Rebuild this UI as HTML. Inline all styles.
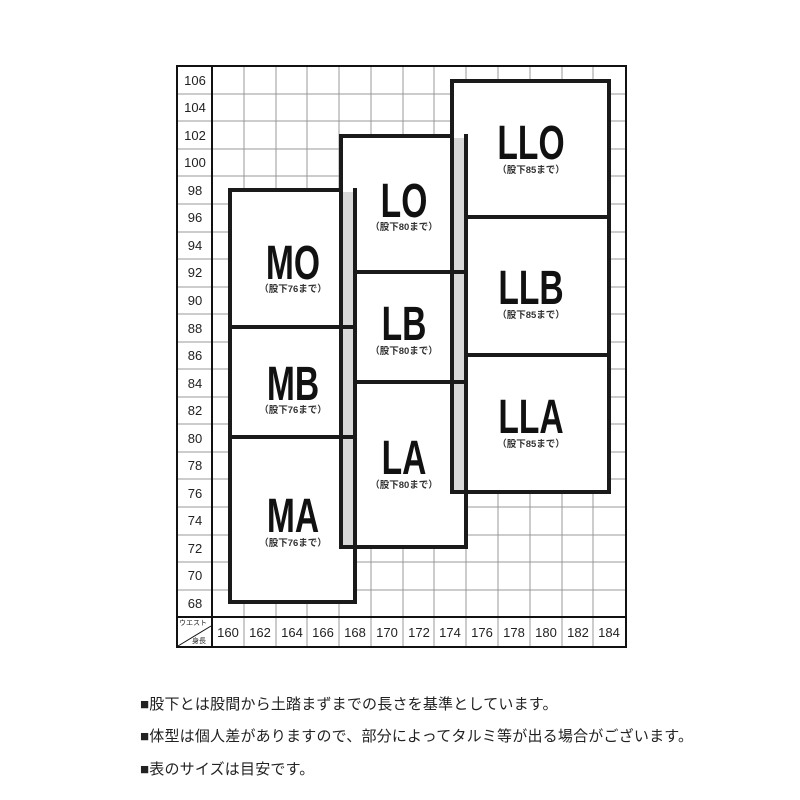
<!DOCTYPE html>
<html><head><meta charset="utf-8"><style>
html,body{margin:0;padding:0;background:#fff;}
svg{display:block}
.n{font-family:"Liberation Sans",sans-serif;font-size:13px;fill:#222;text-anchor:middle}
.big{font-family:"Liberation Sans","DejaVu Sans",sans-serif;font-weight:bold;font-size:48px;fill:#111;text-anchor:middle}
.sub{font-family:"Liberation Sans","Noto Sans CJK JP",sans-serif;font-weight:bold;font-size:9.5px;fill:#333;text-anchor:middle}
.t{font-family:"Liberation Sans","Noto Sans CJK JP",sans-serif;font-size:15px;letter-spacing:0.2px;fill:#222}
</style></head><body>
<svg width="800" height="800" viewBox="0 0 800 800">
<g stroke="#999" stroke-width="1">
<line x1="244" y1="66" x2="244" y2="647"/><line x1="276" y1="66" x2="276" y2="647"/><line x1="307" y1="66" x2="307" y2="647"/><line x1="339" y1="66" x2="339" y2="647"/><line x1="371" y1="66" x2="371" y2="647"/><line x1="403" y1="66" x2="403" y2="647"/><line x1="434" y1="66" x2="434" y2="647"/><line x1="466" y1="66" x2="466" y2="647"/><line x1="498" y1="66" x2="498" y2="647"/><line x1="530" y1="66" x2="530" y2="647"/><line x1="562" y1="66" x2="562" y2="647"/><line x1="593" y1="66" x2="593" y2="647"/>
<line x1="177" y1="94" x2="626" y2="94"/><line x1="177" y1="121" x2="626" y2="121"/><line x1="177" y1="149" x2="626" y2="149"/><line x1="177" y1="176" x2="626" y2="176"/><line x1="177" y1="204" x2="626" y2="204"/><line x1="177" y1="232" x2="626" y2="232"/><line x1="177" y1="259" x2="626" y2="259"/><line x1="177" y1="287" x2="626" y2="287"/><line x1="177" y1="314" x2="626" y2="314"/><line x1="177" y1="342" x2="626" y2="342"/><line x1="177" y1="369" x2="626" y2="369"/><line x1="177" y1="397" x2="626" y2="397"/><line x1="177" y1="424" x2="626" y2="424"/><line x1="177" y1="452" x2="626" y2="452"/><line x1="177" y1="479" x2="626" y2="479"/><line x1="177" y1="507" x2="626" y2="507"/><line x1="177" y1="535" x2="626" y2="535"/><line x1="177" y1="562" x2="626" y2="562"/><line x1="177" y1="590" x2="626" y2="590"/>
</g>
<g fill="none" stroke="#111" stroke-width="2">
<rect x="177" y="66" width="449" height="581"/>
<line x1="212" y1="66" x2="212" y2="647"/>
<line x1="177" y1="617" x2="626" y2="617"/>
</g>
<line x1="178" y1="646" x2="211" y2="626" stroke="#111" stroke-width="1"/>
<text x="179" y="625" style="font-family:'Noto Sans CJK JP',sans-serif;font-size:7px;fill:#222">ウエスト</text>
<text x="192" y="643" style="font-family:'Noto Sans CJK JP',sans-serif;font-size:7px;fill:#222">身長</text>
<g class="n">
<text x="195" y="85">106</text><text x="195" y="112">104</text><text x="195" y="140">102</text><text x="195" y="167">100</text><text x="195" y="195">98</text><text x="195" y="222">96</text><text x="195" y="250">94</text><text x="195" y="277">92</text><text x="195" y="305">90</text><text x="195" y="333">88</text><text x="195" y="360">86</text><text x="195" y="388">84</text><text x="195" y="415">82</text><text x="195" y="443">80</text><text x="195" y="470">78</text><text x="195" y="498">76</text><text x="195" y="525">74</text><text x="195" y="553">72</text><text x="195" y="580">70</text><text x="195" y="608">68</text>
<text x="228" y="637">160</text><text x="260" y="637">162</text><text x="292" y="637">164</text><text x="323" y="637">166</text><text x="355" y="637">168</text><text x="387" y="637">170</text><text x="419" y="637">172</text><text x="450" y="637">174</text><text x="482" y="637">176</text><text x="514" y="637">178</text><text x="546" y="637">180</text><text x="578" y="637">182</text><text x="609" y="637">184</text>
</g>
<g fill="#fff" stroke="#1a1a1a" stroke-width="4">
<rect x="230" y="190" width="125" height="412"/>
<line x1="230" y1="327" x2="355" y2="327"/>
<line x1="230" y1="437" x2="355" y2="437"/>
<rect x="341" y="136" width="125" height="411"/>
<line x1="341" y1="272" x2="466" y2="272"/>
<line x1="341" y1="382" x2="466" y2="382"/>
<rect x="452" y="81" width="157" height="411"/>
<line x1="452" y1="217" x2="609" y2="217"/>
<line x1="452" y1="355" x2="609" y2="355"/>
</g>
<rect x="343" y="192" width="10" height="353" fill="#d8d8d8"/>
<rect x="454" y="138" width="10" height="352" fill="#d8d8d8"/>
<g stroke="#1a1a1a" stroke-width="4">
<line x1="355" y1="188" x2="355" y2="547"/>
<line x1="466" y1="134" x2="466" y2="492"/>
<line x1="341" y1="327" x2="355" y2="327"/><line x1="341" y1="437" x2="355" y2="437"/>
<line x1="452" y1="272" x2="466" y2="272"/><line x1="452" y1="382" x2="466" y2="382"/>
</g>
<g class="big">
<text x="293" y="279" transform="translate(293 0) scale(0.7 1) translate(-293 0)">MO</text>
<text x="293" y="400" transform="translate(293 0) scale(0.7 1) translate(-293 0)">MB</text>
<text x="293" y="532" transform="translate(293 0) scale(0.7 1) translate(-293 0)">MA</text>
<text x="404" y="217" transform="translate(404 0) scale(0.7 1) translate(-404 0)">LO</text>
<text x="404" y="340" transform="translate(404 0) scale(0.7 1) translate(-404 0)">LB</text>
<text x="404" y="474" transform="translate(404 0) scale(0.7 1) translate(-404 0)">LA</text>
<text x="531" y="159" transform="translate(531 0) scale(0.7 1) translate(-531 0)">LLO</text>
<text x="531" y="304" transform="translate(531 0) scale(0.7 1) translate(-531 0)">LLB</text>
<text x="531" y="433" transform="translate(531 0) scale(0.7 1) translate(-531 0)">LLA</text>
</g>
<g class="sub">
<text x="293" y="292">（股下76まで）</text>
<text x="293" y="413">（股下76まで）</text>
<text x="293" y="546">（股下76まで）</text>
<text x="404" y="230">（股下80まで）</text>
<text x="404" y="354">（股下80まで）</text>
<text x="404" y="488">（股下80まで）</text>
<text x="531" y="173">（股下85まで）</text>
<text x="531" y="318">（股下85まで）</text>
<text x="531" y="447">（股下85まで）</text>
</g>
<g class="t">
<text x="140" y="709">■股下とは股間から土踏まずまでの長さを基準としています。</text>
<text x="140" y="741">■体型は個人差がありますので、部分によってタルミ等が出る場合がございます。</text>
<text x="140" y="774">■表のサイズは目安です。</text>
</g>
</svg>
</body></html>
